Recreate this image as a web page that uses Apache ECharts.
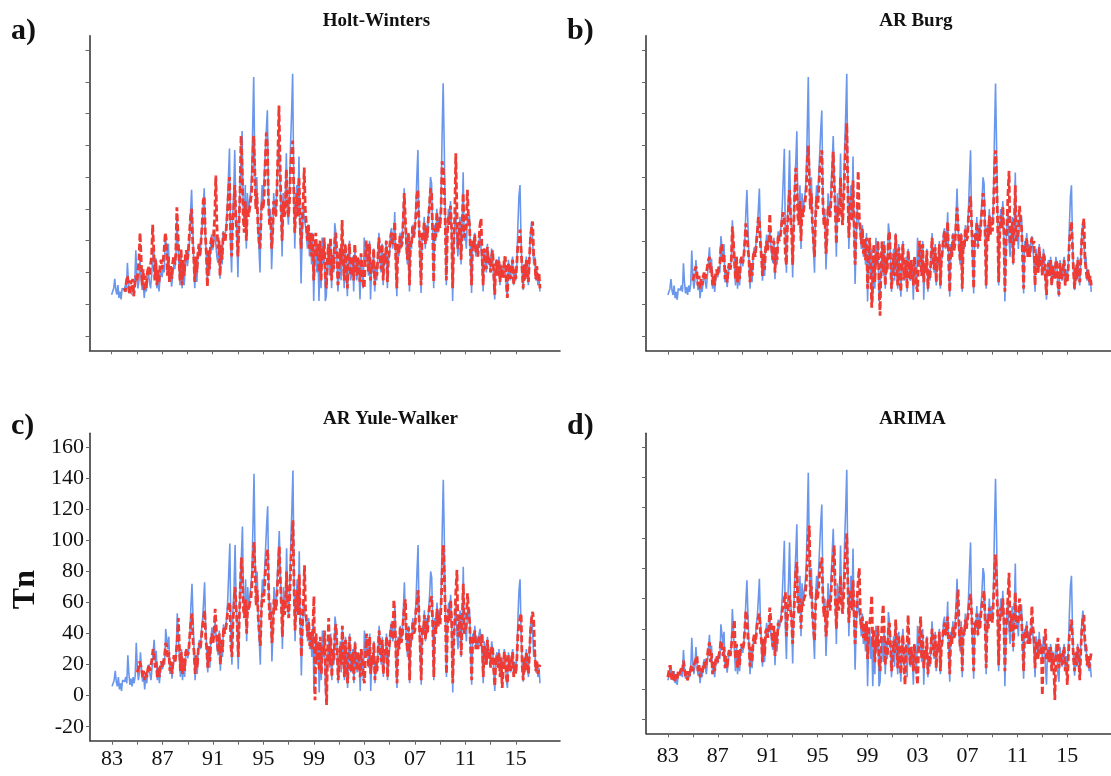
<!DOCTYPE html>
<html>
<head>
<meta charset="utf-8">
<script src="https://cdn.jsdelivr.net/npm/echarts@6/dist/echarts.min.js"></script>
<style>
html,body{margin:0;padding:0;background:#fff;}
#chart{width:1111px;height:776px;}
</style>
</head>
<body>
<div id="chart"></div>
<script>
// ---- data (monthly) ----
const observedStart = 1983;
const observed = [
6,5,10,16,9,6,12,4,8,3,10,11,
9,12,8,26,14,7,11,6,12,8,13,34,
18,10,15,28,17,9,14,4,12,8,16,20,
14,10,18,27,36,22,29,10,18,8,16,22,
17,24,20,43,42,30,38,14,20,11,18,25,
22,28,53,40,25,12,30,10,22,12,26,30,
24,30,40,58,72,50,28,10,26,14,30,36,
30,42,48,60,73,45,30,15,32,18,36,44,
34,40,47,38,30,26,42,16,36,25,46,40,
44,50,62,80,98,40,20,55,70,97,60,45,
17,50,75,90,109,60,50,75,35,70,55,65,
70,80,110,143,90,60,80,50,35,20,60,75,
65,80,95,110,122,70,50,60,22,40,70,60,
55,75,90,106,80,60,30,70,55,65,95,60,
50,70,100,120,145,80,35,60,75,55,93,50,
13,40,60,55,50,45,35,50,30,40,25,45,
2,30,40,20,35,2,30,10,42,25,40,2,
5,25,35,18,40,10,30,20,51,45,30,8,
20,35,15,45,25,10,38,20,5,30,40,15,
18,30,8,35,25,15,28,22,3,30,20,10,
42,25,38,30,18,40,3,25,20,35,8,22,
15,30,45,28,20,38,12,30,25,40,10,28,
30,45,48,35,40,58,25,5,38,30,45,35,
40,55,73,50,35,25,45,8,40,35,50,42,
45,60,80,97,50,30,7,45,40,55,35,50,
40,55,65,80,76,45,10,50,40,60,45,55,
50,65,107,139,100,55,12,45,60,50,65,45,
2,35,50,60,40,30,45,55,25,50,83,40,
45,35,55,50,56,30,7,40,35,45,30,38,
30,40,43,35,25,8,35,30,20,38,25,30,
20,35,30,15,3,25,28,18,30,12,25,20,
18,30,25,10,5,28,20,15,25,30,12,22,
15,25,50,68,75,40,20,9,25,15,30,20,
12,30,45,52,40,25,30,15,22,12,18,8
];

const holtWintersStart = 1984;
const holtWinters = [
10,8,14,18,12,6,15,9,16,5,12,18,
14,20,28,45,30,12,22,8,18,10,20,24,
18,25,30,50,35,15,28,12,22,14,24,28,
22,28,35,45,40,18,30,14,24,16,26,30,
25,32,61,45,30,15,35,12,28,18,30,34,
28,35,45,55,60,40,30,14,30,20,32,38,
30,40,50,65,68,45,32,11,34,22,38,42,
35,45,55,81,50,35,40,18,38,28,45,44,
40,48,58,70,80,45,30,50,60,75,55,45,
30,50,70,106,85,55,45,65,40,60,55,60,
60,70,90,106,85,60,70,50,40,35,55,65,
60,70,90,108,100,65,50,55,35,45,65,60,
55,70,95,125,90,60,40,65,55,60,85,60,
55,65,85,95,103,75,45,60,70,55,80,55,
35,50,65,86,60,50,40,50,35,45,30,45,
15,35,45,30,38,20,40,15,35,28,42,18,
10,28,38,25,42,15,32,22,40,45,32,12,
20,35,25,53,30,15,38,22,10,32,38,18,
18,30,15,38,28,18,30,24,14,32,22,12,
10,28,40,32,20,38,15,26,22,35,12,24,
18,30,42,30,22,38,15,32,26,40,14,28,
28,42,45,38,40,52,28,10,38,32,44,36,
38,52,70,55,40,28,45,12,40,38,50,42,
42,55,68,72,52,32,12,45,42,52,38,48,
42,55,62,73,70,45,14,48,42,58,45,52,
48,60,90,85,75,50,15,45,55,50,62,48,
10,38,55,95,60,35,45,52,28,48,70,42,
42,50,72,55,50,32,12,40,36,44,32,38,
30,40,50,54,30,12,35,30,22,36,26,30,
20,30,34,20,6,25,28,18,28,14,24,20,
16,28,30,14,4,26,20,16,24,28,12,22,
16,26,38,40,47,35,22,10,25,16,28,20,
14,30,42,48,52,30,28,16,24,14,20,10
];

const arBurgStart = 1985;
const arBurg = [
15,18,22,24,20,12,18,10,16,12,18,20,
16,20,24,28,30,20,24,12,18,12,20,22,
18,24,26,36,38,26,32,16,22,14,22,26,
22,28,49,40,28,16,30,14,24,16,28,30,
26,30,40,51,45,35,28,14,26,18,30,34,
30,38,45,55,52,38,30,18,32,22,36,40,
34,40,57,42,34,28,40,20,36,28,44,40,
42,48,55,58,52,30,25,50,60,72,55,45,
25,50,70,86,75,55,50,65,40,60,55,62,
65,72,90,100,80,60,70,50,40,30,55,68,
60,72,85,92,97,65,50,55,32,42,62,58,
55,68,80,96,75,58,38,62,52,60,80,58,
50,65,85,100,114,72,42,58,68,52,78,50,
25,45,60,84,55,48,38,48,32,42,28,42,
10,30,42,22,-2,18,38,14,32,26,40,15,
-7,28,40,20,38,12,30,22,42,46,30,10,
18,32,18,44,26,12,36,20,8,30,38,16,
18,28,10,34,24,16,28,22,12,30,22,12,
8,26,40,30,18,38,14,26,20,34,10,22,
16,30,42,28,22,36,14,30,26,38,12,28,
28,42,46,36,40,52,26,8,36,30,44,34,
38,50,61,50,36,28,44,10,40,36,48,40,
42,55,62,68,50,32,10,44,40,52,36,48,
40,52,60,70,66,44,12,48,40,56,44,52,
46,60,85,97,80,52,14,44,56,48,62,46,
8,36,50,70,84,38,44,52,26,48,75,40,
42,48,62,55,48,30,10,38,34,42,30,36,
30,38,42,38,40,12,32,28,20,36,24,28,
18,32,30,16,6,24,26,18,28,12,24,20,
16,28,26,12,6,26,20,16,24,28,12,20,
14,24,40,46,52,36,20,10,24,16,28,20,
14,28,42,50,54,28,28,16,22,14,18,12
];

const arYuleWalkerStart = 1985;
const arYuleWalker = [
15,18,22,20,18,12,16,10,15,12,17,20,
16,20,24,30,26,18,22,12,18,12,20,22,
18,22,26,34,32,24,28,16,22,14,22,26,
22,28,36,50,32,16,28,14,24,16,28,30,
26,30,40,48,53,35,28,14,26,18,30,34,
30,38,45,50,55,38,30,18,32,22,36,40,
34,40,56,44,34,28,40,20,36,28,44,40,
42,48,55,58,60,32,25,48,58,70,55,45,
25,50,70,89,75,55,50,62,40,58,55,60,
62,72,88,99,80,58,68,50,40,32,55,66,
60,70,82,90,94,65,48,55,34,42,62,58,
55,68,80,96,75,58,38,62,52,60,80,58,
50,65,85,98,113,72,42,58,68,52,78,50,
25,45,60,84,55,48,38,48,32,42,30,45,
64,-3,40,22,35,16,38,14,32,26,42,15,
-6,28,50,20,38,12,30,22,42,46,30,10,
18,32,20,45,26,12,36,20,8,30,38,16,
18,28,10,34,24,16,28,22,12,30,22,12,
8,26,40,30,18,38,14,26,20,34,10,22,
16,30,42,28,22,36,14,30,26,38,12,28,
28,42,46,36,62,50,26,8,36,30,44,34,
38,50,58,62,36,28,44,10,40,36,48,40,
42,55,60,68,50,32,10,44,40,52,36,48,
40,52,58,62,64,44,12,48,40,56,44,52,
46,60,80,97,78,52,14,44,56,48,62,46,
8,36,50,68,81,38,44,52,26,48,72,40,
42,48,66,55,48,30,10,38,34,42,30,36,
30,38,36,32,40,12,32,28,20,36,24,28,
18,32,30,16,6,24,26,18,28,12,24,5,
6,28,26,12,8,26,20,16,24,28,12,20,
14,24,40,46,50,53,20,10,24,16,28,20,
14,28,42,50,54,48,28,16,22,14,18,20
];

const arimaStart = 1983;
const arima = [
8,12,16,10,6,12,8,5,10,7,12,10,
9,14,12,19,14,8,12,6,12,9,14,16,
12,16,18,20,22,12,16,8,14,10,16,18,
14,18,22,28,31,18,24,10,18,12,20,22,
18,22,26,32,30,22,28,14,22,14,22,26,
22,28,36,40,46,20,30,14,26,16,28,30,
26,30,40,52,48,34,30,15,28,18,32,36,
30,36,44,48,50,38,32,18,34,22,38,40,
34,40,54,46,36,28,42,22,38,30,44,42,
42,46,52,56,60,64,35,48,55,62,52,45,
30,48,62,78,84,55,50,60,40,58,55,60,
62,70,85,100,108,62,68,50,40,32,55,66,
60,68,78,84,87,62,48,55,35,42,60,56,
52,65,78,88,95,58,40,60,52,58,75,56,
50,62,78,92,103,70,44,58,66,52,72,50,
30,45,60,72,80,50,40,48,34,44,32,45,
20,36,44,50,62,28,40,18,34,28,42,18,
12,30,45,56,40,16,32,22,40,44,30,12,
18,32,24,46,30,14,36,22,10,30,36,16,
3,28,30,49,26,16,28,22,12,30,22,12,
3,26,38,48,20,36,14,26,20,34,10,22,
16,30,40,30,22,36,14,30,26,38,12,28,
28,40,44,36,40,48,26,10,36,30,42,34,
36,48,56,66,40,28,42,12,38,36,46,40,
40,52,58,63,50,32,12,44,40,50,36,46,
40,50,56,60,65,44,14,46,40,54,44,50,
44,58,76,89,72,50,16,44,54,48,60,46,
12,36,50,62,77,38,44,50,28,46,64,40,
40,46,60,52,46,30,12,38,34,42,30,36,
30,40,55,40,36,14,32,28,20,34,24,28,
-4,28,30,40,20,24,26,18,28,12,24,16,
-7,22,26,34,14,24,20,16,24,28,12,18,
3,22,36,40,46,34,20,12,24,16,28,20,
6,26,40,46,49,30,28,16,22,14,20,24
];

const panelTitles = ['Holt-Winters', 'AR Burg', 'AR Yule-Walker', 'ARIMA'];
const panelLetters = ['a)', 'b)', 'c)', 'd)'];
const xTickYears = [1983,1985,1987,1989,1991,1993,1995,1997,1999,2001,2003,2005,2007,2009,2011,2013,2015];
const xLabelYears = [1983,1987,1991,1995,1999,2003,2007,2011,2015];
const yTickValues = [-20,0,20,40,60,80,100,120,140,160];
const yAxisName = 'Tn';

// ---- build ----
function toPairs(values, start) {
  return values.map((v, i) => [start + i / 12, v]);
}
const fitted = [
  toPairs(holtWinters, holtWintersStart),
  toPairs(arBurg, arBurgStart),
  toPairs(arYuleWalker, arYuleWalkerStart),
  toPairs(arima, arimaStart)
];
const obsPairs = toPairs(observed, observedStart);

const grids = [
  {left: 89.5, top: 35.7, width: 470.5, height: 314.6},
  {left: 646, top: 35.7, width: 470.5, height: 315},
  {left: 90, top: 433.3, width: 470, height: 307.4},
  {left: 646, top: 433.3, width: 470.5, height: 300}
];
const xLabelShow = [false, false, true, true];
const yLabelShow = [false, false, true, false];
const xLabelMargin = [8, 8, 8, 12];

const serif = '"Liberation Serif", "DejaVu Serif", serif';
const axisLineStyle = {color: '#3a3a3a', width: 1.6};

const option = {
  animation: false,
  backgroundColor: '#ffffff',
  grid: grids.map(g => Object.assign({containLabel: false}, g)),
  xAxis: grids.map((g, i) => ({
    type: 'value', gridIndex: i, min: 1981.25, max: 2018.5,
    axisLine: {show: true, onZero: false, lineStyle: axisLineStyle},
    axisTick: {show: true, length: 4, customValues: xTickYears, lineStyle: {color: '#666', width: 1}},
    axisLabel: {show: xLabelShow[i], customValues: xLabelYears, margin: xLabelMargin[i],
      formatter: v => String(Math.round(v) % 100).padStart(2, '0'),
      fontFamily: serif, fontSize: 22, color: '#111'},
    splitLine: {show: false}
  })),
  yAxis: grids.map((g, i) => ({
    type: 'value', gridIndex: i, min: -29, max: 169,
    axisLine: {show: true, onZero: false, lineStyle: axisLineStyle},
    axisTick: {show: true, length: 4, customValues: yTickValues, lineStyle: {color: '#666', width: 1}},
    axisLabel: {show: yLabelShow[i], customValues: yTickValues, margin: 6,
      fontFamily: serif, fontSize: 22, color: '#111'},
    splitLine: {show: false}
  })),
  series: [],
  graphic: []
};

for (let i = 0; i < 4; i++) {
  option.series.push({
    type: 'line', xAxisIndex: i, yAxisIndex: i, data: obsPairs,
    showSymbol: false, symbol: 'none', z: 2,
    lineStyle: {color: '#6a97ec', width: 1.6}
  });
  option.series.push({
    type: 'line', xAxisIndex: i, yAxisIndex: i, data: fitted[i],
    showSymbol: false, symbol: 'none', z: 3,
    lineStyle: {color: '#ef3b33', width: 2.8, type: [7, 3]}
  });
  const g = grids[i];
  option.graphic.push({
    type: 'text', left: g.left + g.width / 2 - 2, top: (i < 2 ? 12 : 410),
    style: {text: panelTitles[i], fontFamily: serif, fontWeight: 'bold', fontSize: 19, fill: '#111', textAlign: 'center'}
  });
}
// panel letters
const letterPos = [[11, 16], [567, 16], [11, 411], [567, 411]];
panelLetters.forEach((t, i) => {
  option.graphic.push({
    type: 'text', left: letterPos[i][0], top: letterPos[i][1],
    style: {text: t, fontFamily: serif, fontWeight: 'bold', fontSize: 30, fill: '#111'}
  });
});
option.graphic.push({
  type: 'text', left: 10, top: 570, rotation: Math.PI / 2,
  style: {text: yAxisName, fontFamily: serif, fontWeight: 'bold', fontSize: 32, fill: '#111'}
});

const chart = echarts.init(document.getElementById('chart'), null, {renderer: 'canvas'});
chart.setOption(option);
</script>
</body>
</html>
